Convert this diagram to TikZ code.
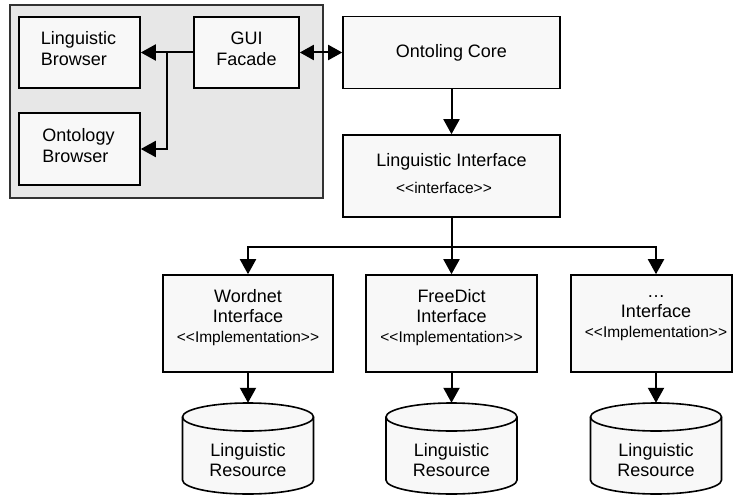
\documentclass[tikz,border=0pt]{standalone}
\usepackage{fontspec}
\newfontfamily\uifont{Liberation Sans}
\usetikzlibrary{arrows.meta,calc}

\definecolor{boxfill}{RGB}{248,248,248}
\definecolor{panelfill}{RGB}{231,231,231}
\definecolor{panelline}{RGB}{50,50,50}

\begin{document}
\begin{tikzpicture}[x=1pt,y=-1pt,
  box/.style={draw=black, line width=1.6pt, fill=boxfill, inner sep=0pt},
  panel/.style={draw=panelline, line width=1.5pt, fill=panelfill, inner sep=0pt},
  txt/.style={inner sep=0pt, font=\uifont\fontsize{18}{21}\selectfont},
  small/.style={inner sep=0pt, font=\uifont\fontsize{15.5}{18}\selectfont},
  impl/.style={inner sep=0pt, align=center, font=\uifont\fontsize{18}{20}\selectfont},
  cylslot/.style={draw=none, inner sep=0pt, minimum width=131pt, minimum height=91pt},
  conn/.style={line width=2pt, -{Triangle[length=15pt,width=16pt]}},
  link/.style={line width=2pt},
  dual/.style={line width=2pt, {Triangle[length=14pt,width=15pt]}-{Triangle[length=14pt,width=15pt]}}
]
\useasboundingbox (0,0) rectangle (733,495);

% GUI panel with its browsers
\node[panel, minimum width=313pt, minimum height=193pt] (panel) at (166.5,101.5) {};
\node[box, minimum width=121pt, minimum height=71pt] (lb) at (79.5,52.5) {};
\node[txt, align=left] (lbt) at (78.5,49) {Linguistic\\Browser};
\node[box, minimum width=121pt, minimum height=72pt] (ob) at (79.5,149) {};
\node[txt, align=left] (obt) at (78.5,145.5) {Ontology\\Browser};
\node[box, minimum width=105pt, minimum height=71pt] (gui) at (246.5,52.5) {};
\node[txt, align=center] (guit) at (246.5,49) {GUI\\Facade};

% core and the linguistic interface
\node[box, minimum width=217pt, minimum height=72pt] (core) at (451.5,52.5) {};
\node[txt] (coret) at (451.5,52.5) {Ontoling Core};
\node[box, minimum width=217pt, minimum height=82pt] (li) at (451.5,176) {};
\node[txt] (lit) at (451.5,162) {Linguistic Interface};
\node[small] (lis) at (444,188) {<<interface>>};

% implementations
\node[box, minimum width=170pt, minimum height=97pt] (wn) at (248,323.5) {};
\node[impl] (wnt) at (248,318) {Wordnet\\Interface\\{\fontsize{15.5}{20}\selectfont <<Implementation>>}};
\node[box, minimum width=171pt, minimum height=97pt] (fd) at (451.5,323.5) {};
\node[impl] (fdt) at (451.5,318) {FreeDict\\Interface\\{\fontsize{15.5}{20}\selectfont <<Implementation>>}};
\node[box, minimum width=161pt, minimum height=97pt] (dots) at (651.5,323.5) {};
\node[impl] (dotst) at (656,318) {…\\Interface\\{\fontsize{15.5}{20}\selectfont <<Implementation>>}};

% linguistic resources (cylinders)
\foreach \n/\cx in {cylA/248, cylB/451.5, cylC/656}{
  \node[cylslot] (\n) at (\cx,448.5) {};
  \filldraw[fill=boxfill, draw=black, line width=1.6pt]
    ({\cx-65.5},417) -- ({\cx-65.5},480)
    arc[start angle=180, end angle=360, x radius=65.5pt, y radius=14pt]
    -- ({\cx+65.5},417)
    arc[start angle=0, end angle=180, x radius=65.5pt, y radius=14pt] -- cycle;
  \draw[line width=1.6pt] ({\cx-65.5},417)
    arc[start angle=180, end angle=360, x radius=65.5pt, y radius=14pt];
  \node[txt, align=center, font=\uifont\fontsize{18}{20}\selectfont] (\n t) at (\cx,460) {Linguistic\\Resource};
}

% connectors
\coordinate (split) at (167,52.5);
\draw[conn] (gui.west) -- (lb.east);
\draw[conn] (split) |- (ob.east);
\draw[dual] (gui.east) -- (core.west);
\draw[conn] (core.south) -- (li.north);
\coordinate (bus) at (451.5,246.5);
\draw[link] (li.south) -- (bus);
\draw[conn] (bus) -| (wn.north);
\draw[conn] (bus) -- (fd.north);
\draw[conn] (bus) -| (cylC.north |- dots.north);
\draw[conn] (wn.south) -- (cylA.north);
\draw[conn] (fd.south) -- (cylB.north);
\draw[conn] (cylC.north |- dots.south) -- (cylC.north);
\end{tikzpicture}
\end{document}
